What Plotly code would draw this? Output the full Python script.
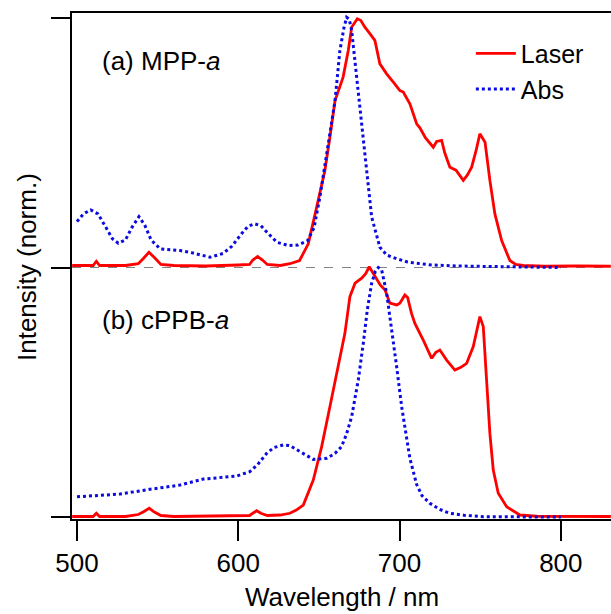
import plotly.graph_objects as go

# ---- data ----
# (a) MPP-a : laser emission
laser_a_nm = [497, 510, 512, 514, 530, 538, 541, 544.6, 548, 552, 560, 580, 600, 607, 609, 612, 615, 618,
              626, 632, 638, 643.4, 648.6, 653.7, 656.8, 660, 665, 668.2, 670.3, 673.8, 676, 678.5, 681.6,
              684.7, 687.8, 692, 697, 700.2, 702.3, 706.4, 710.6, 712.6, 716, 720.9, 723, 726.1, 728, 731.2,
              735, 739.5, 742, 744.7, 747.5, 749.8, 753, 756, 759.1, 763.3, 768.4, 772, 776.7, 790, 810, 831]
laser_a_int = [0.008, 0.008, 0.025, 0.008, 0.008, 0.015, 0.035, 0.061, 0.04, 0.012, 0.008, 0.006, 0.01, 0.012,
               0.03, 0.044, 0.03, 0.012, 0.008, 0.015, 0.028, 0.095, 0.242, 0.389, 0.522, 0.669, 0.763, 0.87,
               0.963, 0.997, 0.99, 0.963, 0.937, 0.91, 0.816, 0.776, 0.736, 0.709, 0.703, 0.656, 0.576, 0.56,
               0.52, 0.482, 0.505, 0.509, 0.46, 0.402, 0.39, 0.349, 0.37, 0.402, 0.47, 0.536, 0.502, 0.349,
               0.215, 0.108, 0.028, 0.012, 0.008, 0.005, 0.006, 0.005]

# (a) MPP-a : absorption
abs_a_nm = [500, 504, 508.5, 513, 518, 522, 525.6, 530, 534, 538.4, 542, 546, 551.5, 558, 564, 572, 582.5,
            590.5, 596, 602, 606, 610, 614, 618, 624, 631, 637, 643, 647, 650.6, 654, 656.8, 660, 663, 665.5,
            667.2, 668.8, 670.3, 673.4, 676.5, 679.6, 682.7, 687.8, 692, 698.2, 705, 710.6, 720, 735, 760,
            780, 800]
abs_a_int = [0.184, 0.215, 0.231, 0.215, 0.16, 0.115, 0.097, 0.11, 0.16, 0.204, 0.17, 0.11, 0.075, 0.07,
             0.068, 0.058, 0.041, 0.056, 0.085, 0.135, 0.165, 0.175, 0.168, 0.14, 0.101, 0.088, 0.09, 0.108,
             0.16, 0.282, 0.42, 0.522, 0.669, 0.87, 0.96, 1.003, 0.995, 0.95, 0.763, 0.562, 0.362, 0.202,
             0.081, 0.05, 0.035, 0.022, 0.017, 0.01, 0.006, 0.003, 0.001, 0.0]

# (b) cPPB-a : laser emission
laser_b_nm = [497, 510, 512, 514, 530, 538, 541, 544.8, 548, 552, 560, 580, 600, 607, 609, 611.4, 614, 618,
              625.9, 632, 636, 640.3, 646.5, 651.7, 656.8, 662, 666.1, 669.2, 672.4, 676.5, 679, 681.2, 683.5,
              685.8, 688, 691, 694, 698.2, 700.2, 703.3, 705, 707.4, 709.5, 714.7, 719.9, 722.5, 725, 729.2,
              734.3, 738, 741.6, 745.7, 749.8, 751.9, 754, 756, 758.1, 761.2, 766.4, 774.6, 785, 800, 831]
laser_b_int = [0.002, 0.002, 0.015, 0.002, 0.002, 0.01, 0.02, 0.035, 0.02, 0.006, 0.002, 0.003, 0.004, 0.006,
               0.015, 0.025, 0.015, 0.006, 0.008, 0.015, 0.028, 0.048, 0.148, 0.282, 0.442, 0.602, 0.736,
               0.883, 0.937, 0.957, 0.975, 1.003, 0.98, 0.957, 0.93, 0.91, 0.857, 0.85, 0.857, 0.89, 0.88,
               0.816, 0.776, 0.709, 0.636, 0.66, 0.669, 0.629, 0.589, 0.6, 0.616, 0.683, 0.803, 0.763, 0.562,
               0.335, 0.188, 0.095, 0.041, 0.008, 0.003, 0.002, 0.002]

# (b) cPPB-a : absorption
abs_b_nm = [500, 515, 526.7, 545.3, 563.9, 578.3, 590, 599, 607.2, 612, 617.6, 622, 627.9, 632, 638.3, 646.5,
            654.8, 660, 664, 667, 670.3, 674.4, 677.5, 680, 682.7, 685, 686.8, 688.9, 692, 695, 698.2, 701.3,
            703.3, 706.4, 710.6, 714, 718.8, 725, 731.2, 740, 752, 770, 800]
abs_b_int = [0.081, 0.086, 0.092, 0.111, 0.128, 0.152, 0.16, 0.164, 0.182, 0.21, 0.255, 0.278, 0.289, 0.286,
             0.262, 0.231, 0.235, 0.255, 0.282, 0.33, 0.402, 0.549, 0.696, 0.83, 0.937, 0.985, 1.0, 0.99,
             0.897, 0.763, 0.602, 0.442, 0.362, 0.235, 0.13, 0.085, 0.055, 0.03, 0.015, 0.007, 0.001, 0.0, 0.0]

x_ticks = [500, 600, 700, 800]
offset_a = 1.0   # vertical stacking offset of panel (a)

RED = "rgb(255,0,0)"
BLUE = "rgb(10,10,225)"
FONT = "Arial, Liberation Sans, sans-serif"

fig = go.Figure()
fig.add_trace(go.Scatter(x=laser_a_nm, y=[v + offset_a for v in laser_a_int], mode="lines",
                         line=dict(color=RED, width=2.8), name="Laser", legendgroup="laser"))
fig.add_trace(go.Scatter(x=abs_a_nm, y=[v + offset_a for v in abs_a_int], mode="lines",
                         line=dict(color=BLUE, width=3, dash="dot"), name="Abs", legendgroup="abs"))
fig.add_trace(go.Scatter(x=laser_b_nm, y=laser_b_int, mode="lines",
                         line=dict(color=RED, width=2.8), name="Laser", legendgroup="laser", showlegend=False))
fig.add_trace(go.Scatter(x=abs_b_nm, y=abs_b_int, mode="lines",
                         line=dict(color=BLUE, width=3, dash="dot"), name="Abs", legendgroup="abs", showlegend=False))

x_range = [496.9, 831.1]
fig.add_shape(type="line", xref="x", yref="y", x0=x_range[0], x1=x_range[1], y0=offset_a, y1=offset_a,
              line=dict(color="rgb(130,130,130)", width=1, dash="dash"), layer="below")

fig.update_layout(
    width=611, height=614, autosize=False,
    margin=dict(l=72, r=0, t=13, b=95),
    plot_bgcolor="white", paper_bgcolor="white",
    font=dict(family=FONT, size=26, color="black"),
    showlegend=True,
    legend=dict(x=0.74, y=0.965, xanchor="left", yanchor="top", bgcolor="rgba(0,0,0,0)",
                font=dict(size=25), tracegroupgap=0, itemwidth=40),
    xaxis=dict(range=x_range, tickvals=x_ticks, ticks="outside", ticklen=20, tickwidth=2, tickcolor="black",
               showline=True, linewidth=2, linecolor="black", mirror=True, showgrid=False, zeroline=False,
               tickfont=dict(size=26)),
    yaxis=dict(range=[-0.008, 2.02], tickvals=[0, 1, 2], ticks="outside", ticklen=19, tickwidth=2,
               tickcolor="black", showticklabels=False, showline=True, linewidth=2, linecolor="black",
               showgrid=False, zeroline=False),
    annotations=[
        dict(text="Intensity (norm.)", textangle=-90, xref="paper", yref="paper", x=-0.0835, y=0.498,
             xanchor="center", yanchor="middle", showarrow=False, font=dict(size=26)),
        dict(text="Wavelength / nm", xref="paper", yref="paper", x=0.5004, y=-0.154,
             xanchor="center", yanchor="middle", showarrow=False, font=dict(size=26)),
        dict(text="(a) MPP-<i>a</i>", xref="paper", yref="paper", x=0.052, y=0.905,
             xanchor="left", yanchor="middle", showarrow=False, font=dict(size=26)),
        dict(text="(b) cPPB-<i>a</i>", xref="paper", yref="paper", x=0.052, y=0.393,
             xanchor="left", yanchor="middle", showarrow=False, font=dict(size=26)),
    ],
)

fig.write_html("out.html", config={"displayModeBar": False},
               post_script="document.body.style.margin='0';")
